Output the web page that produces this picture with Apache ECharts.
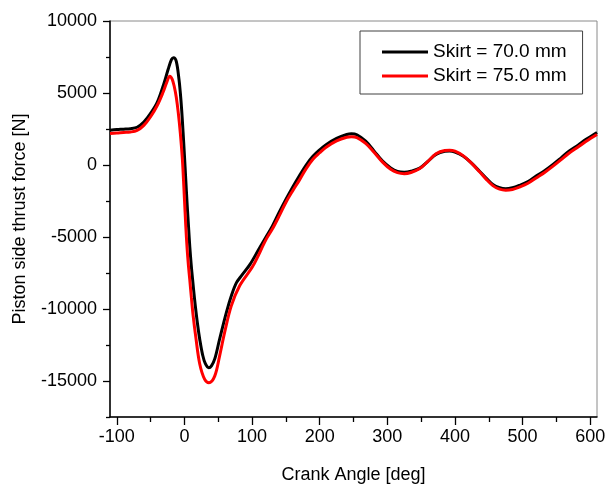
<!DOCTYPE html>
<html>
<head>
<meta charset="utf-8">
<script src="https://cdn.jsdelivr.net/npm/echarts@6/dist/echarts.min.js"></script>
<style>html,body{margin:0;padding:0;background:#fff}#c{width:615px;height:485px}</style>
</head>
<body>
<div id="c"></div>
<script>
const seriesNames = ['Skirt = 70.0 mm', 'Skirt = 75.0 mm'];
const angle70 = [-110,-100,-90,-80,-70,-60,-50,-40,-30,-24,-19,-16,-12,-8,-6,-4,-2,0,2,4,6,8,10,12,15,19,23,27,31,36,40,45,52,62,70,77,85,97,110,120,130,140,150,160,170,180,190,200,210,225,240,247,255,268,280,293,305,315,325,335,348,360,372,385,392,400,412,425,436,446,456,466,475,485,495,508,520,533,545,557,569,582,594,610];
const force70 = [2420,2460,2490,2525,2620,2980,3580,4360,5700,6650,7330,7450,7200,5950,5000,3800,2300,700,-1000,-2700,-4200,-5700,-6900,-7900,-9300,-10900,-12200,-13200,-13800,-14080,-13950,-13450,-12100,-10250,-9000,-8170,-7650,-6900,-5850,-5050,-4250,-3300,-2400,-1550,-750,0,600,1050,1430,1850,2120,2170,2100,1660,1000,270,-200,-440,-500,-430,-220,250,740,950,970,900,620,110,-420,-900,-1350,-1580,-1650,-1580,-1420,-1150,-770,-380,40,500,970,1380,1780,2260];
const angle75 = [-110,-100,-90,-80,-70,-60,-50,-40,-32,-26,-21.7,-18,-15,-12,-9,-6,-3,0,2,4,6,8,10.3,13,16.7,22.6,30,36.3,44.8,52,59.4,69.2,81.5,101.2,120.8,130,140,150,160,170,180,190,200,210,225,240,247,255,268,280,293,305,315,325,335,348,360,372,385,392,400,412,425,436,446,456,466,475,485,495,508,520,533,545,557,569,582,594,610];
const force75 = [2190,2220,2260,2290,2400,2750,3350,4150,5000,5750,6170,5950,5450,4700,3600,2200,400,-2300,-4200,-5800,-7000,-8000,-9200,-10500,-11900,-13800,-14890,-15120,-14660,-13270,-11645,-9800,-8400,-7020,-5166,-4450,-3550,-2600,-1800,-1050,-250,400,850,1250,1680,1930,1960,1900,1500,900,200,-300,-530,-600,-520,-250,250,780,1010,1030,960,650,100,-450,-980,-1430,-1680,-1750,-1700,-1540,-1270,-900,-500,-80,370,830,1250,1650,2120];
const xMajorTicks = [-100,0,100,200,300,400,500,600];
const xMinorTicks = [-50,50,150,250,350,450,550];
const yMajorTicks = [-15000,-10000,-5000,0,5000,10000];
const yMinorTicks = [-17500,-12500,-7500,-2500,2500,7500];
const xTitle = 'Crank Angle [deg]';
const yTitle = 'Piston side thrust force [N]';
const colors = ['#000000', '#ff0000'];

const FONT = 'Liberation Sans, Arial, sans-serif';
const xr = {min: -110, max: 610};
const yr = {min: -17500, max: 10000};
const chart = echarts.init(document.getElementById('c'), null, {renderer: 'canvas'});
const mk = (xs, ys) => xs.map((x, i) => [x, ys[i]]);
const tickAxis = (range, pos, vals, len) => ({
  type: 'value', min: range.min, max: range.max, position: pos,
  axisLine: {show: false, onZero: false},
  axisTick: {show: true, inside: false, length: len, customValues: vals, lineStyle: {color: '#000', width: 1.3}},
  axisLabel: {show: false},
  splitLine: {show: false}
});
chart.setOption({
  animation: false,
  backgroundColor: '#fff',
  grid: {left: 110, right: 18, top: 21, bottom: 68, show: true, borderColor: '#8a8a8a', borderWidth: 1, containLabel: false, outerBoundsMode: 'none'},
  legend: {
    orient: 'vertical', left: 360, top: 31,
    padding: [11, 16, 8, 22],
    icon: 'rect',
    itemWidth: 46, itemHeight: 3, itemGap: 4,
    borderColor: '#404040', borderWidth: 1,
    textStyle: {fontFamily: FONT, fontSize: 19, color: '#000', lineHeight: 20},
    data: seriesNames
  },
  xAxis: [{
    type: 'value', min: xr.min, max: xr.max,
    name: xTitle, nameLocation: 'middle', nameGap: 49,
    nameTextStyle: {fontFamily: FONT, fontSize: 18, color: '#000'},
    axisLine: {show: true, onZero: false, lineStyle: {color: '#000', width: 1.5}},
    axisTick: {show: false},
    axisLabel: {show: true, margin: 11, customValues: xMajorTicks, formatter: v => String(v), fontFamily: FONT, fontSize: 18, color: '#000', showMinLabel: true, showMaxLabel: true, hideOverlap: false},
    splitLine: {show: false}
  }, tickAxis(xr, 'bottom', xMajorTicks, 8), tickAxis(xr, 'bottom', xMinorTicks, 5)],
  yAxis: [{
    type: 'value', min: yr.min, max: yr.max,
    name: yTitle, nameLocation: 'middle', nameGap: 81, nameRotate: 90,
    nameTextStyle: {fontFamily: FONT, fontSize: 18, color: '#000'},
    axisLine: {show: true, onZero: false, lineStyle: {color: '#000', width: 1.5}},
    axisTick: {show: false},
    axisLabel: {show: true, margin: 13, customValues: yMajorTicks, formatter: v => String(v), fontFamily: FONT, fontSize: 18, color: '#000', showMinLabel: true, showMaxLabel: true},
    splitLine: {show: false}
  }, tickAxis(yr, 'left', yMajorTicks, 7), tickAxis(yr, 'left', yMinorTicks, 4)],
  series: [{
    name: seriesNames[0], type: 'line', data: mk(angle70, force70),
    xAxisIndex: 0, yAxisIndex: 0,
    showSymbol: false, symbol: 'none', smooth: 0.35, z: 3,
    color: colors[0], lineStyle: {color: colors[0], width: 3}
  }, {
    name: seriesNames[1], type: 'line', data: mk(angle75, force75),
    xAxisIndex: 0, yAxisIndex: 0,
    showSymbol: false, symbol: 'none', smooth: 0.35, z: 4,
    color: colors[1], lineStyle: {color: colors[1], width: 3}
  }]
});
</script>
</body>
</html>
